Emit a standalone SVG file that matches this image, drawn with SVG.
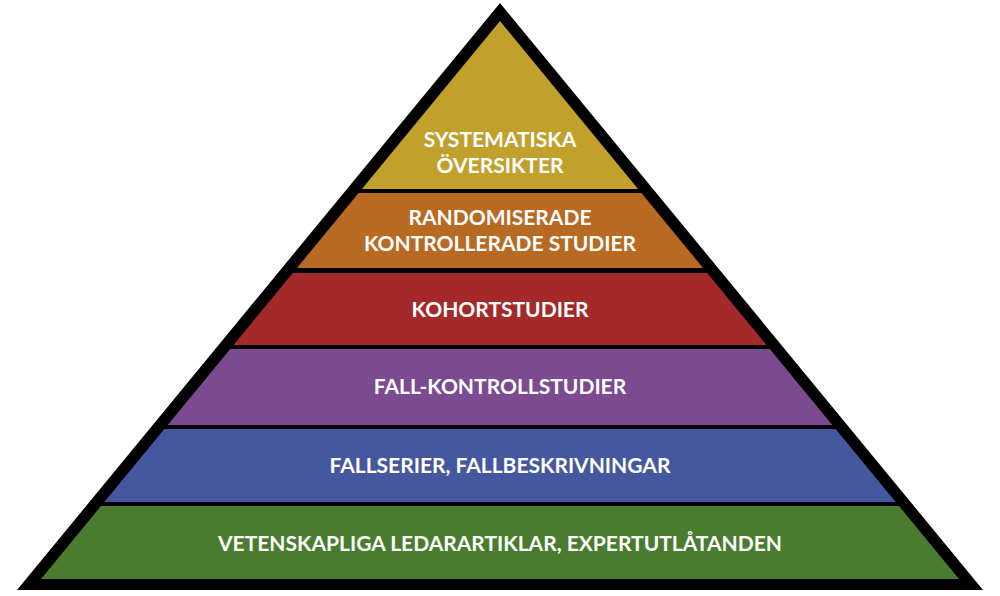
<svg xmlns="http://www.w3.org/2000/svg" width="1000" height="596" viewBox="0 0 1000 596">
<style>
text{font-family:Lato,"Open Sans","Liberation Sans",sans-serif;font-weight:bold;font-size:21px;fill:#fff;text-anchor:middle}
</style>
<rect width="1000" height="596" fill="#fff"/>
<polygon points="500,3 983,590 17,590" fill="#000"/>
<g id="n1"><polygon points="500,21 638.1,189 361.9,189" fill="#C2A02C"/><text x="500" y="147">SYSTEMATISKA</text><text x="500" y="173">ÖVERSIKTER</text></g>
<g id="n2"><polygon points="358.6,193 641.4,193 703.1,268 296.9,268" fill="#B86922"/><text x="500" y="225">RANDOMISERADE</text><text x="500" y="251">KONTROLLERADE STUDIER</text></g>
<g id="n3"><polygon points="292.8,273 707.2,273 766.5,345 233.5,345" fill="#A3292A"/><text x="500" y="317">KOHORTSTUDIER</text></g>
<g id="n4"><polygon points="230.2,349 769.8,349 832.3,425 167.7,425" fill="#7B4A91"/><text x="500" y="394">FALL-KONTROLLSTUDIER</text></g>
<g id="n5"><polygon points="164.4,429 835.6,429 895.7,502 104.3,502" fill="#44579F"/><text x="500" y="473">FALLSERIER, FALLBESKRIVNINGAR</text></g>
<g id="n6"><polygon points="101,506 899,506 959,579 41,579" fill="#4A7C2F"/><text x="500" y="551">VETENSKAPLIGA LEDARARTIKLAR, EXPERTUTLÅTANDEN</text></g>
<g id="connectors"/>
</svg>
